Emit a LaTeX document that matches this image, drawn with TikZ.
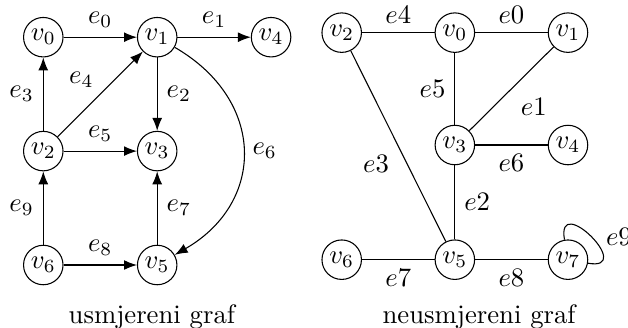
\documentclass[tikz,border=0pt]{standalone}
\usetikzlibrary{arrows.meta}

\begin{document}
\begin{tikzpicture}[
  grafvrh/.style = {draw, circle, minimum size=0.52cm, inner sep=0pt},
  grafluk/.style = {-{Latex[length=1.7mm, width=1.3mm]}},
  grafbrid/.style = {},
  graflbl/.style = {font=\normalsize}
]
  \useasboundingbox (-0.57,-0.82) rectangle (7.70,3.49);
  % usmjereni graf: vrhovi
  \node[grafvrh] (d0) at (0,3) {$v_0$};
  \node[grafvrh] (d1) at (1.5,3) {$v_1$};
  \node[grafvrh] (d4) at (3,3) {$v_4$};
  \node[grafvrh] (d2) at (0,1.5) {$v_2$};
  \node[grafvrh] (d3) at (1.5,1.5) {$v_3$};
  \node[grafvrh] (d6) at (0,0) {$v_6$};
  \node[grafvrh] (d5) at (1.5,0) {$v_5$};
  % usmjereni graf: lukovi
  \draw[grafluk] (d0) -- node[above, graflbl] {$e_0$} (d1);
  \draw[grafluk] (d1) -- node[above, graflbl] {$e_1$} (d4);
  \draw[grafluk] (d1) -- node[right, graflbl] {$e_2$} (d3);
  \draw[grafluk] (d2) -- node[left, graflbl] {$e_3$} (d0);
  \draw[grafluk] (d2) -- node[above left=-1pt, graflbl] {$e_4$} (d1);
  \draw[grafluk] (d2) -- node[above, graflbl] {$e_5$} (d3);
  \draw[grafluk] (d1) to[bend left=60, looseness=1.3] node[right, graflbl] {$e_6$} (d5);
  \draw[grafluk] (d5) -- node[right, graflbl] {$e_7$} (d3);
  \draw[grafluk] (d6) -- node[above, graflbl] {$e_8$} (d5);
  \draw[grafluk] (d6) -- node[left, graflbl] {$e_9$} (d2);
  \node[graflbl] (capd) at (1.43,-0.68) {usmjereni graf};
  % neusmjereni graf: vrhovi
  \node[grafvrh] (n2) at (3.93,3.06) {$v_2$};
  \node[grafvrh] (n0) at (5.42,3.06) {$v_0$};
  \node[grafvrh] (n1) at (6.91,3.06) {$v_1$};
  \node[grafvrh] (n3) at (5.42,1.58) {$v_3$};
  \node[grafvrh] (n4) at (6.91,1.58) {$v_4$};
  \node[grafvrh] (n6) at (3.93,0.07) {$v_6$};
  \node[grafvrh] (n5) at (5.42,0.07) {$v_5$};
  \node[grafvrh] (n7) at (6.91,0.07) {$v_7$};
  % neusmjereni graf: bridovi
  \draw[grafbrid] (n0) -- node[above, graflbl] {$e0$} (n1);
  \draw[grafbrid] (n3) -- node[below right, graflbl] {$e1$} (n1);
  \draw[grafbrid] (n3) -- node[right, graflbl] {$e2$} (n5);
  \draw[grafbrid] (n2) -- node[below left, graflbl] {$e3$} (n5);
  \draw[grafbrid] (n2) -- node[above, graflbl] {$e4$} (n0);
  \draw[grafbrid] (n0) -- node[left, graflbl] {$e5$} (n3);
  \draw[grafbrid] (n3) -- node[below, graflbl] {$e6$} (n4);
  \draw[grafbrid] (n6) -- node[below, graflbl] {$e7$} (n5);
  \draw[grafbrid] (n5) -- node[below, graflbl] {$e8$} (n7);
  \draw[grafbrid] (n7.100) .. controls +(100:0.65) and +(-10:0.65) .. node[right=2pt, graflbl] {$e9$} (n7.-10);
  \node[graflbl] (capn) at (5.74,-0.68) {neusmjereni graf};
\end{tikzpicture}
\end{document}
